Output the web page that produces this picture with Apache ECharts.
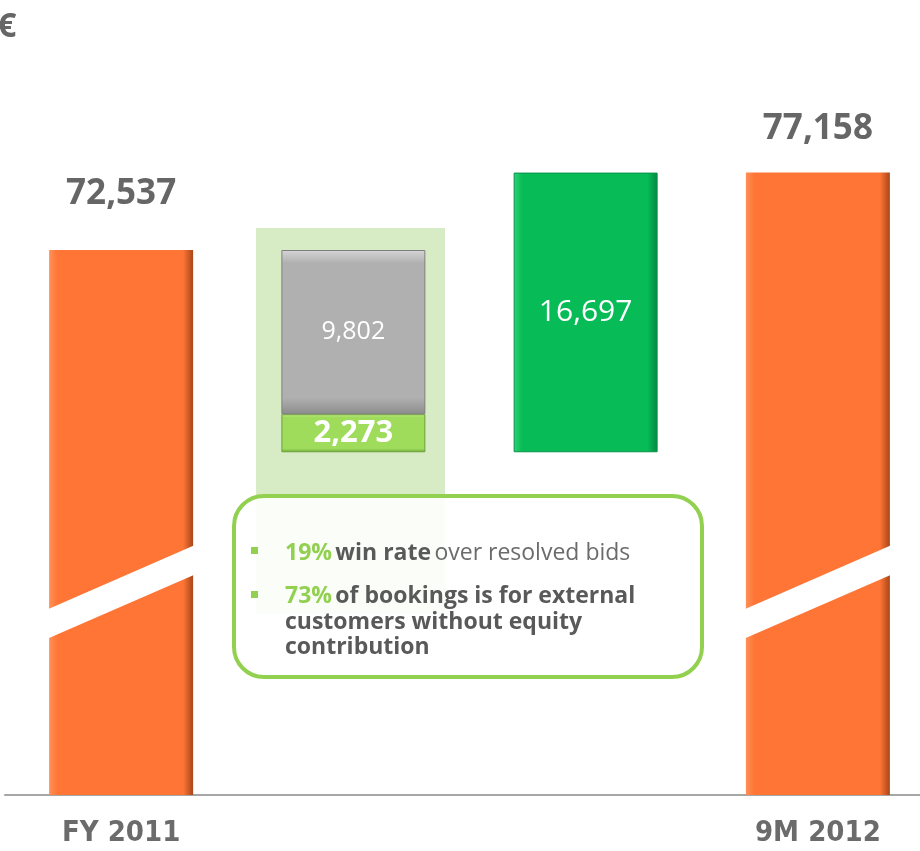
<!DOCTYPE html>
<html>
<head>
<meta charset="utf-8">
<script src="https://cdn.jsdelivr.net/npm/echarts@6/dist/echarts.min.js"></script>
<style>
  html, body { margin: 0; padding: 0; background: #fff; }
  #chart { width: 920px; height: 851px; }
</style>
</head>
<body>
<div id="chart"></div>
<script>
// bookings bridge, in € thousand
var categories = ['FY 2011', '', '', '9M 2012'];
var totals     = [72537, '-', '-', 77158];
var helper     = ['-', 60462, 60462, '-'];   // invisible base of the floating bars
var lostGreen  = ['-', 2273, '-', '-'];
var lostGrey   = ['-', 9802, '-', '-'];
var newOrders  = ['-', '-', 16697, '-'];
// axis break band on the two total bars: [leftLow, leftHigh, rightLow, rightHigh]
var breakBars  = [0, 3];
var breakBand  = [49300, 51050, 53200, 54950];

var chart = echarts.init(document.getElementById('chart'));

function fmt(v) { return echarts.format.addCommas(v); }

function hGrad(c0, c1, c2) {
  return new echarts.graphic.LinearGradient(0, 0, 1, 0, [
    { offset: 0, color: c0 }, { offset: 0.06, color: c1 },
    { offset: 0.93, color: c1 }, { offset: 1, color: c2 }
  ]);
}
function vGrad(c0, c1, c2) {
  return new echarts.graphic.LinearGradient(0, 0, 0, 1, [
    { offset: 0, color: c0 }, { offset: 0.08, color: c1 },
    { offset: 0.9, color: c1 }, { offset: 1, color: c2 }
  ]);
}

var gaps = [38, 26];
var totalData = totals.map(function (v, i) {
  if (v === '-') return '-';
  return { value: v, label: { distance: gaps[i === 0 ? 0 : 1] } };
});

var option = {
  animation: false,
  grid: { left: 5, width: 929, top: 125, bottom: 56, outerBoundsMode: 'none', containLabel: false },
  xAxis: {
    type: 'category',
    data: categories,
    axisLine: { lineStyle: { color: '#a6a6a6', width: 2 } },
    axisTick: { show: false },
    axisLabel: {
      margin: 24,
      color: '#6b6b6b',
      fontSize: 29,
      fontWeight: 'bold',
      fontFamily: "'Liberation Sans Narrow', 'DejaVu Sans Condensed', 'Open Sans', sans-serif"
    }
  },
  yAxis: {
    type: 'value',
    min: 40000,
    max: 80000,
    show: false,
    splitLine: { show: false }
  },
  series: [
    {
      type: 'bar', stack: 'w', barWidth: 144, data: helper,
      itemStyle: { color: 'transparent' }, silent: true
    },
    {
      type: 'bar', stack: 'w', barWidth: 144, data: lostGreen,
      itemStyle: {
        color: vGrad('#c8f08e', '#9fdc5c', '#6fa83a'),
        borderColor: '#6d9e3c', borderWidth: 1
      },
      label: {
        show: true, position: 'inside', color: '#fff', fontSize: 31, fontWeight: 'bold',
        fontFamily: "'Open Sans', sans-serif", formatter: function (p) { return fmt(p.value); }
      }
    },
    {
      type: 'bar', stack: 'w', barWidth: 144, data: lostGrey,
      itemStyle: {
        color: vGrad('#d6d6d6', '#b0b0b0', '#8c8c8c'),
        borderColor: '#7f7f7f', borderWidth: 1
      },
      label: {
        show: true, position: 'inside', color: '#fff', fontSize: 25,
        fontFamily: "'Open Sans', sans-serif", formatter: function (p) { return fmt(p.value); }
      }
    },
    {
      type: 'bar', stack: 'w', barWidth: 144, data: newOrders,
      itemStyle: {
        color: hGrad('#2fd374', '#07bb56', '#05883e'),
        borderColor: '#06934a', borderWidth: 1
      },
      label: {
        show: true, position: 'inside', color: '#fff', fontSize: 30,
        fontFamily: "'Open Sans', sans-serif", formatter: function (p) { return fmt(p.value); }
      }
    },
    {
      type: 'bar', stack: 'w', barWidth: 144, data: totalData,
      itemStyle: { color: hGrad('#ff9058', '#ff7536', '#a84618') },
      label: {
        show: true, position: 'top', color: '#666666', fontSize: 35, fontWeight: 'bold',
        fontFamily: "'Open Sans', sans-serif", formatter: function (p) { return fmt(p.value); }
      }
    },
    {
      type: 'custom',
      data: breakBars.map(function (c) { return [c].concat(breakBand); }),
      z: 5,
      renderItem: function (params, api) {
        var c = api.value(0);
        var half = 72 + 3;
        var x = api.coord([c, 0])[0];
        var pts = [
          [x - half, api.coord([c, api.value(1)])[1]],
          [x - half, api.coord([c, api.value(2)])[1]],
          [x + half, api.coord([c, api.value(4)])[1]],
          [x + half, api.coord([c, api.value(3)])[1]]
        ];
        return { type: 'polygon', shape: { points: pts }, style: { fill: '#ffffff' } };
      }
    }
  ],
  graphic: [
    {
      type: 'text', left: -3, top: 10,
      style: { text: '€', fill: '#666666', font: "bold 34px 'Open Sans', sans-serif" }
    },
    {
      type: 'rect', z: -10, shape: { x: 256, y: 228, width: 189, height: 386 },
      style: { fill: '#d7ecc4' }
    },
    {
      type: 'rect', z: 10,
      shape: { x: 234, y: 496, width: 468, height: 181, r: 30 },
      style: { fill: 'rgba(255,255,255,0.88)', stroke: '#92d050', lineWidth: 4 }
    },
    { type: 'rect', z: 11, shape: { x: 251, y: 547, width: 7, height: 7 }, style: { fill: '#92d050' } },
    { type: 'rect', z: 11, shape: { x: 251, y: 591, width: 7, height: 7 }, style: { fill: '#92d050' } },
    {
      type: 'text', z: 11, x: 285, y: 553,
      style: {
        text: '{g|19%} {b|win rate} {n|over resolved bids}',
        verticalAlign: 'middle',
        rich: {
          g: { fill: '#92d050', font: "bold 23px 'Open Sans', sans-serif" },
          b: { fill: '#595959', font: "bold 23px 'Open Sans', sans-serif" },
          n: { fill: '#6b6b6b', font: "23px 'Open Sans', sans-serif" }
        }
      }
    },
    {
      type: 'text', z: 11, x: 285, y: 584,
      style: {
        text: '{g|73%} {b|of bookings is for external}\n{b|customers without equity}\n{b|contribution}',
        rich: {
          g: { fill: '#92d050', font: "bold 23px 'Open Sans', sans-serif", lineHeight: 25.5 },
          b: { fill: '#595959', font: "bold 23px 'Open Sans', sans-serif", lineHeight: 25.5 }
        }
      }
    }
  ]
};

chart.setOption(option);
window.addEventListener('resize', function () { chart.resize(); });
</script>
</body>
</html>
